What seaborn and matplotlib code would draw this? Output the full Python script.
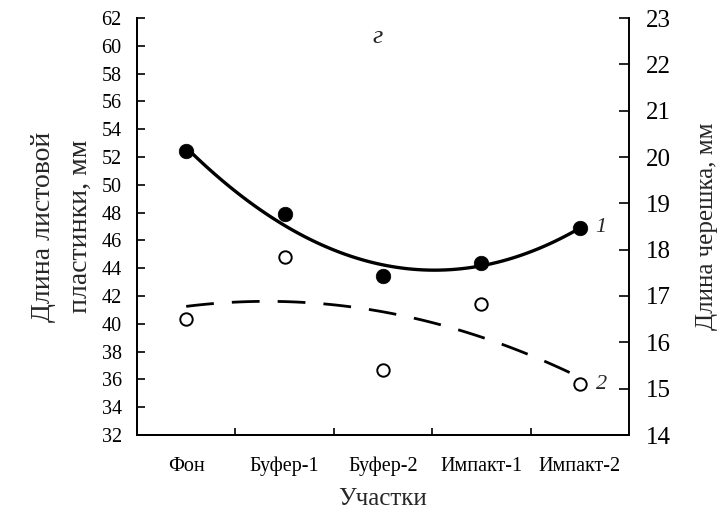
import numpy as np
import pandas as pd
import matplotlib
matplotlib.use("Agg")
import matplotlib.pyplot as plt
import seaborn as sns

# Sampling sites
categories = ["Фон", "Буфер-1", "Буфер-2", "Импакт-1", "Импакт-2"]
# 1 — leaf blade length, mm (left axis)
blade_len = [52.4, 47.9, 43.45, 44.4, 46.9]
# 2 — petiole length, mm (right axis)
petiole_len = [16.5, 17.85, 15.4, 16.82, 15.1]

left_ticks = list(range(32, 63, 2))
right_ticks = list(range(14, 24, 1))

sns.set_theme(style="white")
plt.rcParams["font.family"] = ["Liberation Serif", "DejaVu Serif"]

df = pd.DataFrame({
    "pos": np.arange(len(categories)),
    "site": categories,
    "blade": blade_len,
    "petiole": petiole_len,
})

fig = plt.figure(figsize=(7.27, 5.09), dpi=100)
ax = fig.add_axes([137 / 727, 1 - 435 / 509, (629 - 137) / 727, (435 - 18) / 509])
ax2 = ax.twinx()

# Series 1: filled markers with quadratic trend
sns.regplot(data=df, x="pos", y="blade", order=2, ci=None, scatter=False,
            ax=ax, line_kws=dict(color="black", lw=2.4, solid_capstyle="butt"))
sns.scatterplot(data=df, x="pos", y="blade", ax=ax, s=110, color="black",
                edgecolor="black", linewidth=0.5, zorder=5)

# Series 2: open markers with dashed quadratic trend
sns.regplot(data=df, x="pos", y="petiole", order=2, ci=None, scatter=False,
            ax=ax2, line_kws=dict(color="black", lw=2.0, dashes=(10, 6.5)))
sns.scatterplot(data=df, x="pos", y="petiole", ax=ax2, s=80, facecolor="white",
                edgecolor="black", linewidth=1.4, zorder=5)

ax.set_xlim(-0.5, len(categories) - 0.5)
ax.set_ylim(left_ticks[0], left_ticks[-1])
ax2.set_ylim(right_ticks[0], right_ticks[-1])

ax.set_xticks(np.arange(len(categories)))
ax.set_xticklabels(categories, fontsize=14.5)
ax.set_xticks(np.arange(0.5, len(categories) - 0.5, 1.0), minor=True)
ax.tick_params(axis="x", which="major", length=0, pad=15.5)
ax.tick_params(axis="x", which="minor", direction="in", length=5, width=1.2,
               bottom=True, color="black")

ax.set_yticks(left_ticks)
ax.tick_params(axis="y", direction="in", length=6, width=1.2, left=True,
               labelsize=14.5, pad=11, color="black")
ax2.set_yticks(right_ticks)
ax2.tick_params(axis="y", direction="in", length=7, width=1.2, right=True,
                labelsize=18, pad=12, color="black")

for a in (ax, ax2):
    for side in ("left", "right", "bottom"):
        a.spines[side].set_visible(True)
        a.spines[side].set_color("black")
        a.spines[side].set_linewidth(1.4)
    a.spines["top"].set_visible(False)
    a.grid(False)
ax.spines["right"].set_visible(False)

ax.set_xlabel("Участки", fontsize=18)
ax.xaxis.set_label_coords(0.5, -0.127)
ax.set_ylabel("Длина листовой\nпластинки, мм", fontsize=20, linespacing=1.6)
ax.yaxis.set_label_coords(-0.09, 0.5)
ax2.set_ylabel("Длина черешка, мм", fontsize=18)
ax2.yaxis.set_label_coords(1.136, 0.5)

# Panel letter and series numbers
ax.text(0.49, 0.955, "г", transform=ax.transAxes, fontsize=19,
        style="italic", ha="center", va="center")
ax.text(len(categories) - 1 + 0.16, blade_len[-1], "1", fontsize=16,
        style="italic", ha="left", va="center")
ax2.text(len(categories) - 1 + 0.16, petiole_len[-1], "2", fontsize=16,
         style="italic", ha="left", va="center")

for lab in ax.get_xticklabels() + ax.get_yticklabels() + ax2.get_yticklabels():
    lab.set_color("black")

fig.savefig("out.png", dpi=100, facecolor="white")
